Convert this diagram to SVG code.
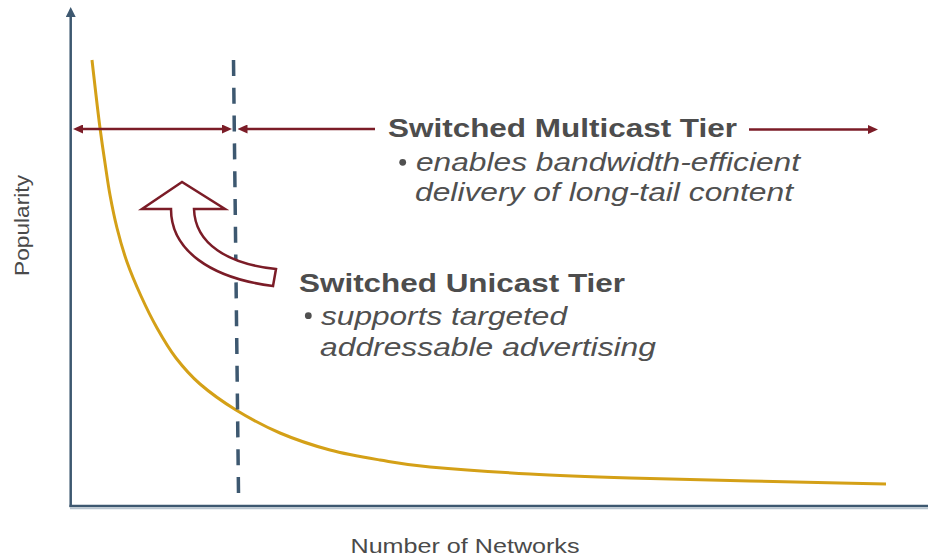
<svg xmlns="http://www.w3.org/2000/svg" width="928" height="557" viewBox="0 0 928 557">
  <style>
    .axis { stroke: #3D5870; stroke-width: 2.5; fill: none; }
    .tier { stroke: #7B1C27; stroke-width: 2.6; fill: none; }
    .title { font-family: "Liberation Sans", Arial, sans-serif; font-weight: bold; font-size: 26px; fill: #4D4D4D; }
    .bullet { font-family: "Liberation Sans", Arial, sans-serif; font-style: italic; font-size: 25px; fill: #505050; }
    .axislabel { font-family: "Liberation Sans", Arial, sans-serif; font-size: 21px; fill: #4A4A4A; }
  </style>
  <defs>
    <marker id="tierHead" markerUnits="userSpaceOnUse" markerWidth="10" markerHeight="9" refX="3" refY="4.5" orient="auto-start-reverse">
      <path d="M0,0 L10,4.5 L0,9 Z" fill="#7B1C27"/>
    </marker>
    <marker id="axisHead" markerUnits="userSpaceOnUse" markerWidth="10" markerHeight="10" refX="2" refY="5" orient="auto">
      <path d="M0,0 L10,5 L0,10 Z" fill="#3D5870"/>
    </marker>
  </defs>

  <g id="axes">
    <line x1="70" y1="508.5" x2="928" y2="508.5" stroke="#B9C5D0" stroke-width="1.5"/>
    <line class="axis" x1="70.7" y1="507" x2="70.7" y2="15" marker-end="url(#axisHead)"/>
    <line class="axis" x1="69.5" y1="506" x2="928" y2="506"/>
  </g>

  <g id="popularity-curve">
    <path fill="none" stroke="#D4A017" stroke-width="3" d="M92,60 C93.3,71.7 94.7,83.7 96,95 C97.3,106.3 98.5,116.7 100,128 C101.5,139.3 103.3,151.8 105,163 C106.7,174.2 108,184.2 110,195 C112,205.8 114.2,216.8 117,228 C119.8,239.2 123,250.7 127,262 C131,273.3 136,285 141,296 C146,307 151.2,317.7 157,328 C162.8,338.3 168.8,348.7 176,358 C183.2,367.3 190,375.3 200,384 C210,392.7 222.7,401.8 236,410 C249.3,418.2 264.3,426.3 280,433 C295.7,439.7 313.3,445.5 330,450 C346.7,454.5 363.3,457.2 380,460 C396.7,462.8 405,464.7 430,467 C455,469.3 496.7,472.2 530,474 C563.3,475.8 593.3,476.8 630,478 C666.7,479.2 707.3,480 750,481 C792.7,482 840.7,483 886,484"/>
  </g>

  <g id="divider">
    <line x1="233.5" y1="60" x2="238.5" y2="493" stroke="#3D5870" stroke-width="3.5" stroke-dasharray="16 11.8"/>
  </g>

  <g id="connectors">
    <line class="tier" x1="80" y1="129" x2="225" y2="129" marker-start="url(#tierHead)" marker-end="url(#tierHead)"/>
    <line class="tier" x1="244.5" y1="129" x2="375" y2="129" marker-start="url(#tierHead)"/>
    <line class="tier" x1="749" y1="129.5" x2="871" y2="129.5" marker-end="url(#tierHead)"/>
  </g>

  <g id="curved-arrow">
    <path d="M182,182 L142,209 L171,209 C171,250 210,278 273,286 L276,269 C228,264 195,244 194,209 L225,209 Z" fill="#FFFFFF" stroke="#7B1C27" stroke-width="2.5" stroke-linejoin="miter"/>
  </g>

  <g id="multicast-tier">
    <text class="title" x="388" y="137" textLength="349" lengthAdjust="spacingAndGlyphs">Switched Multicast Tier</text>
    <circle cx="402.7" cy="162.3" r="3.4" fill="#505050"/>
    <text class="bullet" x="416" y="171" textLength="384" lengthAdjust="spacingAndGlyphs">enables bandwidth-efficient</text>
    <text class="bullet" x="415" y="201" textLength="378" lengthAdjust="spacingAndGlyphs">delivery of long-tail content</text>
  </g>

  <g id="unicast-tier">
    <text class="title" x="299" y="292" textLength="326" lengthAdjust="spacingAndGlyphs">Switched Unicast Tier</text>
    <circle cx="308.3" cy="315.7" r="3.4" fill="#505050"/>
    <text class="bullet" x="321" y="325" textLength="246" lengthAdjust="spacingAndGlyphs">supports targeted</text>
    <text class="bullet" x="320" y="356" textLength="336" lengthAdjust="spacingAndGlyphs">addressable advertising</text>
  </g>

  <g id="axis-labels">
    <text class="axislabel" x="350.5" y="553" textLength="229" lengthAdjust="spacingAndGlyphs">Number of Networks</text>
    <text class="axislabel" transform="translate(28.5,276) rotate(-90)" x="0" y="0" textLength="101" lengthAdjust="spacingAndGlyphs">Popularity</text>
  </g>
</svg>
